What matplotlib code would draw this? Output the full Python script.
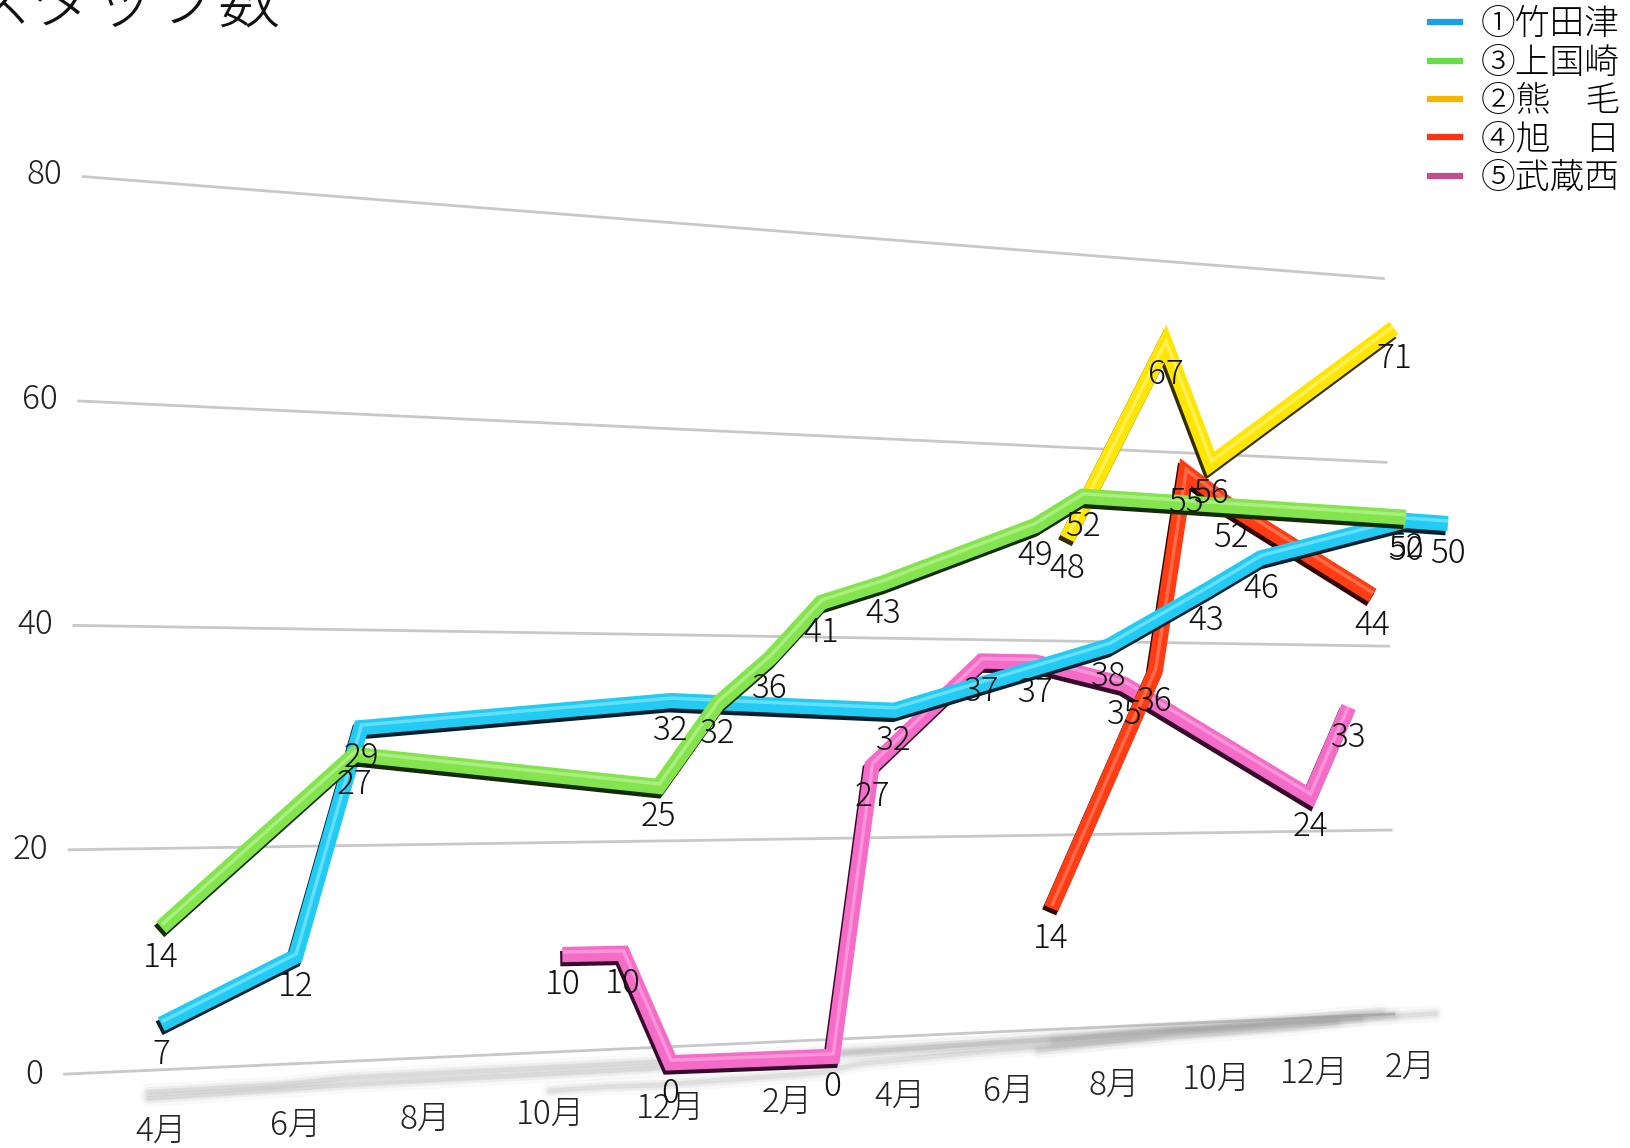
import numpy as np
import matplotlib
matplotlib.use("Agg")
import matplotlib.pyplot as plt
import matplotlib.transforms as mtransforms
import matplotlib.patheffects as pe
from matplotlib.lines import Line2D

plt.rcParams['font.family'] = ['Noto Sans CJK JP', 'DejaVu Sans']
plt.rcParams['font.weight'] = 'light'

# ---- data (x = month position, 0 = April of first year) ----
months = ['4月', '6月', '8月', '10月', '12月', '2月', '4月', '6月', '8月', '10月', '12月', '2月']
month_pos = [0, 2, 4, 6, 8, 10, 12, 14, 16, 18, 20, 22]
yticks = [0, 20, 40, 60, 80]

blue_pos = [0, 2, 3, 8, 11.9, 15.9, 17.8, 18.9, 21.9, 22.8]
blue_val = [7, 12, 29, 32, 32, 38, 43, 46, 50, 50]

green_pos = [0, 2.9, 7.8, 8.8, 9.7, 10.6, 11.7, 14.5, 15.4, 21.9]
green_val = [14, 27, 25, 32, 36, 41, 43, 49, 52, 52]

yellow_pos = [15.1, 17.0, 17.9, 21.65]
yellow_val = [48, 67, 56, 71]

red_pos = [14.8, 16.8, 17.4, 18.3, 21.2]
red_val = [14, 36, 55, 52, 44]

pink_pos = [6.2, 7.2, 8.0, 10.8, 11.5, 13.5, 14.5, 16.2, 19.9, 20.7]
pink_val = [10, 10, 0, 0, 27, 37, 37, 35, 24, 33]

names = ['①竹田津', '③上国崎', '②熊\u3000毛', '④旭\u3000日', '⑤武蔵西']


class Persp(mtransforms.Transform):
    """(month position, value) -> screen, perspective receding to the right"""
    input_dims = output_dims = 2

    def __init__(self, b0, b1, k0, kc, dx=0.0):
        super().__init__()
        self.b0, self.b1, self.k0, self.kc, self.dx = b0, b1, k0, kc, dx

    def transform_non_affine(self, values):
        values = np.asarray(values, dtype=float).reshape(-1, 2)
        u, v = values[:, 0], values[:, 1]
        x = (155 + 67.23 * u) / (1 + 0.00932 * u) + self.dx
        y = self.b0 + self.b1 * u - v * self.k0 / (1 + self.kc * u)
        return np.column_stack([x, y])


class Wall(mtransforms.Transform):
    """back wall: (s in 0..1, value) -> screen"""
    input_dims = output_dims = 2

    def transform_non_affine(self, values):
        values = np.asarray(values, dtype=float).reshape(-1, 2)
        s, v = values[:, 0], values[:, 1]
        xl = 62 + 18 * v / 80
        xr = 1340 - 10 * v / 80
        yl = 1033 - v * 10.79
        yr = 975 - v * 8.84
        return np.column_stack([xl + s * (xr - xl), yl + s * (yr - yl)])


fig = plt.figure(figsize=(16.31, 11.48), dpi=100)
ax = fig.add_axes([0, 0, 1, 1])
ax.set_xlim(0, 1568)
ax.set_ylim(1104, 0)
ax.axis('off')

# each series sits at its own depth, so each gets its own plane
front = Persp(1078, -3.905, 13.3, 0.01814) + ax.transData
blue_plane = Persp(1078, -0.53, 13.3, 0.008) + ax.transData
pink_plane = Persp(1039.6, -2.2, 11.46, 0.00985) + ax.transData
floor = Persp(1088, -2.77, 0, 0) + ax.transData
wall = Wall() + ax.transData

# back wall gridlines and value labels
for t in yticks:
    ax.plot([0, 1], [t, t], color='#c8c8c8', lw=2, transform=wall, zorder=0)
    ax.text(-0.016, t, str(t), transform=wall, ha='right', va='center',
            fontsize=24, color='#222222')

# month labels along the floor
for p, m in zip(month_pos, months):
    ax.text(p, 0, m, transform=floor, ha='center', va='center',
            fontsize=24, color='#222222')

series = [
    (blue_pos, blue_val, blue_plane, '#22CBF4', '#05202E', '#A8F4FF', '#1AA0E6', 3),
    (green_pos, green_val, front, '#84E44E', '#142C06', '#D2F8B2', '#66DD44', 4),
    (yellow_pos, yellow_val, front, '#FFE600', '#352C00', '#FFF8B0', '#F5B800', 2),
    (red_pos, red_val, front, '#FF3C12', '#340500', '#FF9A84', '#FF3311', 2),
    (pink_pos, pink_val, pink_plane, '#F56CC8', '#360A2A', '#FFBCEB', '#C2508F', 1),
]

# soft shadows on the floor
shadow_offsets = [0, 8, 14, 20, 26]
for (pos, val, tr, c, dark, light, lc, z), off in zip(series, shadow_offsets):
    sh = Persp(1052 + off, -3.0 - off * 0.05, 0.25, 0.018, dx=-12) + ax.transData
    for lw, a in [(12, 0.06), (7, 0.12), (3.5, 0.18)]:
        ax.plot(pos, val, color='#9a9a9a', lw=lw, alpha=a, transform=sh,
                zorder=0.5, solid_capstyle='round', solid_joinstyle='round')

# tubes
for pos, val, tr, c, dark, light, lc, z in series:
    ax.plot(pos, val, color=c, lw=11, transform=tr, zorder=z,
            solid_joinstyle='miter', solid_capstyle='butt',
            path_effects=[pe.Stroke(offset=(-1.5, -3), linewidth=11, foreground=dark),
                          pe.Normal(),
                          pe.Stroke(offset=(0.4, 1.8), linewidth=2.5, foreground=light,
                                    alpha=0.5)])

# data labels
for pos, val, tr, c, dark, light, lc, z in series:
    for p, v in zip(pos, val):
        ax.annotate(str(v), xy=(p, v), xycoords=tr, xytext=(0, -22),
                    textcoords='offset points', ha='center', va='center',
                    fontsize=24, color='#111111', zorder=10)

# title (cut at top edge like the original)
ax.text(-30, 22, 'スタッフ数', fontsize=45, ha='left', va='baseline', color='#111111')

handles = [Line2D([], [], color=s[6], lw=4.5) for s in series]
ax.legend(handles, names, loc='upper left', bbox_to_anchor=(1375, 6),
          bbox_transform=ax.transData, frameon=False, fontsize=25,
          handlelength=0.85, handletextpad=0.6, labelspacing=0.07, borderpad=0,
          borderaxespad=0)

fig.savefig('out.png', dpi=100)
